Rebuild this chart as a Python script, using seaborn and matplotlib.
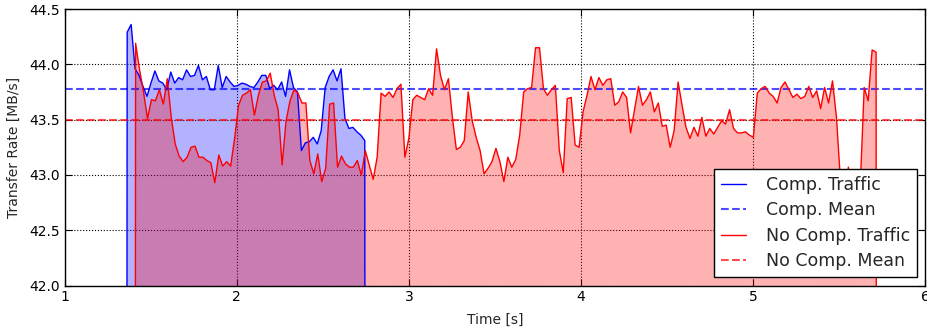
import matplotlib
matplotlib.use("Agg")
import matplotlib.pyplot as plt
import numpy as np
import pandas as pd
import seaborn as sns

# sampling period of the traffic monitor [s]
SAMPLE_DT = 0.023

# transfer rate with compression [MB/s], first sample at comp_start
comp_start = 1.340
comp_rate = [
    0.0,
    44.29, 44.36, 43.96, 43.90, 43.80, 43.71, 43.83, 43.94, 43.85, 43.83,
    43.77, 43.93, 43.83, 43.88, 43.86, 43.95, 43.89, 43.90, 43.99, 43.86,
    43.89, 43.77, 43.77, 43.99, 43.79, 43.89, 43.84, 43.80, 43.81, 43.83,
    43.82, 43.80, 43.79, 43.84, 43.90, 43.90, 43.78, 43.81, 43.77, 43.84,
    43.71, 43.95, 43.79, 43.75, 43.22, 43.29, 43.30, 43.34, 43.28, 43.40,
    43.79, 43.89, 43.95, 43.85, 43.96, 43.51, 43.42, 43.43, 43.39, 43.36,
    43.31,
    0.0,
]

# transfer rate without compression [MB/s], first sample at nocomp_start
nocomp_start = 1.389
nocomp_rate = [
    0.0,
    44.19, 43.95, 43.75, 43.51, 43.68, 43.67, 43.77, 43.64, 43.87, 43.52,
    43.28, 43.17, 43.12, 43.16, 43.25, 43.26, 43.16, 43.16, 43.13, 43.11,
    42.93, 43.18, 43.08, 43.12, 43.08, 43.33, 43.63, 43.72, 43.74, 43.77,
    43.54, 43.72, 43.84, 43.85, 43.92, 43.72, 43.59, 43.09, 43.49, 43.67,
    43.77, 43.74, 43.65, 43.65, 43.13, 43.01, 43.19, 42.94, 43.06, 43.64,
    43.65, 43.07, 43.17, 43.10, 43.07, 43.07, 43.13, 43.00, 43.22, 43.09,
    42.96, 43.16, 43.74, 43.71, 43.75, 43.70, 43.78, 43.82, 43.16, 43.33,
    43.68, 43.72, 43.70, 43.68, 43.78, 43.72, 44.14, 43.90, 43.77, 43.87,
    43.52, 43.23, 43.25, 43.31, 43.75, 43.49, 43.34, 43.22, 43.01, 43.06,
    43.12, 43.24, 43.12, 42.94, 43.16, 43.07, 43.14, 43.36, 43.75, 43.78,
    43.79, 44.15, 44.15, 43.78, 43.72, 43.77, 43.81, 43.22, 43.02, 43.69,
    43.70, 43.27, 43.25, 43.57, 43.72, 43.89, 43.77, 43.88, 43.81, 43.86,
    43.87, 43.63, 43.66, 43.75, 43.70, 43.38, 43.59, 43.80, 43.63, 43.68,
    43.75, 43.57, 43.65, 43.44, 43.45, 43.25, 43.40, 43.84, 43.63, 43.43,
    43.33, 43.43, 43.35, 43.52, 43.35, 43.42, 43.37, 43.43, 43.49, 43.46,
    43.59, 43.42, 43.38, 43.38, 43.39, 43.36, 43.34, 43.74, 43.78, 43.80,
    43.74, 43.71, 43.65, 43.79, 43.84, 43.77, 43.70, 43.73, 43.69, 43.71,
    43.80, 43.70, 43.76, 43.60, 43.79, 43.65, 43.85, 43.52, 42.95, 42.80,
    43.07, 42.75, 42.55, 42.90, 43.79, 43.67, 44.13, 44.11,
    0.0,
]

comp_mean = 43.775
nocomp_mean = 43.50

x_ticks = [1, 2, 3, 4, 5, 6]
y_ticks = [42.0, 42.5, 43.0, 43.5, 44.0, 44.5]

comp = pd.DataFrame({
    "time": comp_start + SAMPLE_DT * np.arange(len(comp_rate)),
    "rate": comp_rate,
})
nocomp = pd.DataFrame({
    "time": nocomp_start + SAMPLE_DT * np.arange(len(nocomp_rate)),
    "rate": nocomp_rate,
})

sns.set_style("ticks", {
    "xtick.direction": "in",
    "ytick.direction": "in",
    "axes.edgecolor": "black",
})
plt.rcParams["font.family"] = ["DejaVu Sans"]

fig = plt.figure(figsize=(9.28, 3.29), dpi=100)
ax = fig.add_axes([0.0697, 0.1322, 0.9276, 0.8404])

ax.fill_between(comp["time"], comp["rate"], 0, color="blue", alpha=0.3, linewidth=0)
ax.fill_between(nocomp["time"], nocomp["rate"], 0, color="red", alpha=0.3, linewidth=0)

sns.lineplot(data=comp, x="time", y="rate", ax=ax, color="blue", linewidth=1.0,
             sort=False, estimator=None, label="Comp. Traffic")
ax.axhline(comp_mean, color="blue", linestyle="--", linewidth=1.5, alpha=0.7,
           label="Comp. Mean")
sns.lineplot(data=nocomp, x="time", y="rate", ax=ax, color="red", linewidth=1.0,
             sort=False, estimator=None, label="No Comp. Traffic")
ax.axhline(nocomp_mean, color="red", linestyle="--", linewidth=1.5, alpha=0.7,
           label="No Comp. Mean")

ax.set_xlim(1, 6)
ax.set_ylim(42.0, 44.5)
ax.set_xticks(x_ticks)
ax.set_xticklabels([str(v) for v in x_ticks])
ax.set_yticks(y_ticks)
ax.set_yticklabels([f"{v:.1f}" for v in y_ticks])
ax.tick_params(which="both", top=True, right=True, labelsize=10, length=5,
               width=0.8, color="black", labelcolor="black")
ax.grid(True, color="black", linestyle=":", linewidth=0.8)
for s in ax.spines.values():
    s.set_visible(True)
    s.set_color("black")
    s.set_linewidth(1.0)

ax.set_xlabel("Time [s]", fontsize=10, labelpad=6)
ax.set_ylabel("Transfer Rate [MB/s]", fontsize=10, labelpad=6)

leg = ax.legend(loc="lower right", fontsize=12.5, frameon=True, fancybox=False,
                framealpha=1, edgecolor="black", handlelength=1.4,
                handletextpad=1.15, labelspacing=0.42, borderpad=0.4,
                borderaxespad=0.5)
leg.get_frame().set_linewidth(1.0)

fig.savefig("out.png", dpi=100)
